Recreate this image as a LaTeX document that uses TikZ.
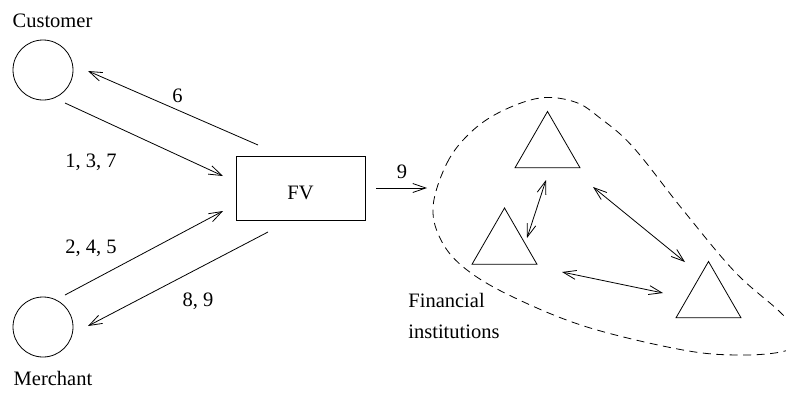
\documentclass[tikz,border=0pt]{standalone}
\usepackage{fontspec}
\setmainfont{Liberation Serif}
\usetikzlibrary{arrows.meta,shapes.geometric}

\tikzset{
  lbl/.style={inner sep=0pt, anchor=base, font=\fontsize{20.5}{24}\selectfont},
  party/.style={circle, draw, minimum size=60pt, inner sep=0pt},
  bank/.style={regular polygon, regular polygon sides=3, draw, minimum size=75pt, inner sep=0pt},
  fvbox/.style={rectangle, draw, minimum width=129pt, minimum height=64pt, inner sep=0pt},
  flow/.style={-{Straight Barb[length=13pt,width=9pt]}},
  twoway/.style={{Straight Barb[length=13pt,width=9pt]}-{Straight Barb[length=13pt,width=9pt]}},
  group/.style={dashed, dash pattern=on 8pt off 5.5pt}
}

\begin{document}
\begin{tikzpicture}[x=1pt, y=-1pt, line width=0.8pt]
  \useasboundingbox (0,0) rectangle (786,394);
  \clip (0,0) rectangle (786,394);

  % parties
  \node[party] (cust) at (43,70) {};
  \node[party] (merch) at (43,327) {};
  \node[lbl] (custname) at (52.5,27) {Customer};
  \node[lbl] (merchname) at (53,385) {Merchant};

  % central FV box
  \node[fvbox] (fv) at (300.5,188) {};
  \node[lbl] (fvname) at (300.5,199) {FV};

  % arrow end points between parties and FV
  \coordinate (c1) at (65,103);
  \coordinate (f1) at (223,176);
  \coordinate (f6) at (258,145);
  \coordinate (c6) at (88,71);
  \coordinate (m2) at (65,295);
  \coordinate (f2) at (223,211);
  \coordinate (f8) at (268,232);
  \coordinate (m8) at (88,326);

  \draw[flow] (c1) -- (f1);
  \draw[flow] (f6) -- (c6);
  \draw[flow] (m2) -- (f2);
  \draw[flow] (f8) -- (m8);

  \node[lbl] (l137) at (91,167) {1, 3, 7};
  \node[lbl] (l6) at (177.5,102) {6};
  \node[lbl] (l245) at (91,253) {2, 4, 5};
  \node[lbl] (l89) at (198,306) {8, 9};

  % arrow towards the financial institutions
  \coordinate (f9) at (376,188);
  \coordinate (g9) at (427,188);
  \draw[flow] (f9) -- (g9);
  \node[lbl] (l9) at (402,178) {9};

  % financial institutions
  \node[bank] (t1) at (547.5,149) {};
  \node[bank] (t2) at (504.5,245.5) {};
  \node[bank] (t3) at (708.5,299) {};

  \coordinate (a12) at (546,180);
  \coordinate (b12) at (527,238);
  \coordinate (a13) at (593,187);
  \coordinate (b13) at (685,262);
  \coordinate (a23) at (562,272);
  \coordinate (b23) at (663,293);
  \draw[twoway] (a12) -- (b12);
  \draw[twoway] (a13) -- (b13);
  \draw[twoway] (a23) -- (b23);

  % dashed outline round the institutions
  \draw[group] plot[smooth cycle, tension=0.6] coordinates {
    (433,207) (447,163) (470,133) (500,112) (540,98) (575,102) (600,118)
    (633,147) (683,210) (735,272) (780,312) (802,338) (785,351) (740,355)
    (683,350) (587,327) (513,297) (467,270) (442,242)};

  \node[lbl, anchor=base west] (fin1) at (408,307) {Financial};
  \node[lbl, anchor=base west] (fin2) at (408,338) {institutions};
\end{tikzpicture}
\end{document}
